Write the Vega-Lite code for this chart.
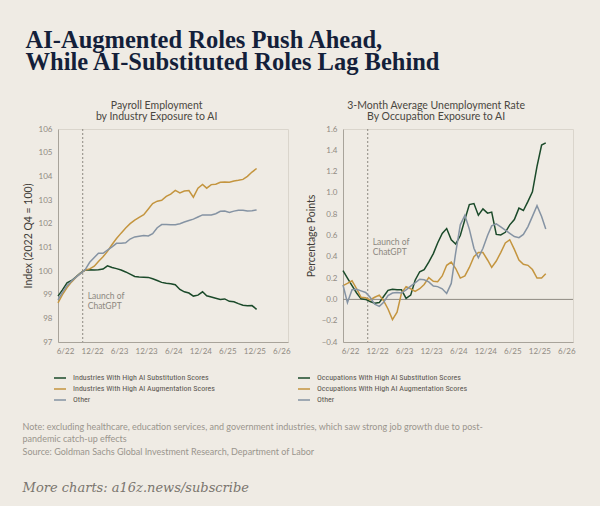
{
  "$schema": "https://vega.github.io/schema/vega-lite/v6.json",
  "background": "#efebe4",
  "padding": {"left": 22, "top": 27, "right": 25, "bottom": 11},
  "config": {
    "font": "Lato",
    "view": {"stroke": "#dad5cc"},
    "axis": {"labelFont": "Lato", "labelFontSize": 8, "labelColor": "#8f8a82", "labelOverlap": false, "labelFlush": false, "domainColor": "#a8a39a", "ticks": false, "grid": false, "titleFont": "Lato", "titleFontSize": 10.5, "titleFontWeight": "normal", "titleColor": "#3f3c37"},
    "legend": {"orient": "none", "direction": "vertical", "symbolType": "stroke", "symbolSize": 144, "symbolStrokeWidth": 1.5, "labelFont": "Liberation Sans Narrow, Roboto Condensed, Liberation Sans", "labelFontSize": 8, "labelColor": "#5a5650", "rowPadding": 0, "labelOffset": 6, "title": null}
  },
  "title": {"text": ["AI-Augmented Roles Push Ahead,", "While AI-Substituted Roles Lag Behind"], "anchor": "start", "font": "Liberation Serif", "fontSize": 24.5, "fontWeight": "bold", "color": "#141f3a", "lineHeight": 22, "offset": 25, "dx": 3},
  "datasets": {
    "employment": [
      {"date":"2022-06-01","series":"sub","value":98.94},{"date":"2022-07-01","series":"sub","value":99.2},{"date":"2022-08-01","series":"sub","value":99.5},{"date":"2022-09-01","series":"sub","value":99.6},{"date":"2022-10-01","series":"sub","value":99.75},{"date":"2022-11-01","series":"sub","value":99.92},{"date":"2022-12-01","series":"sub","value":100.04},
      {"date":"2023-01-01","series":"sub","value":100.05},{"date":"2023-02-01","series":"sub","value":100.04},{"date":"2023-03-01","series":"sub","value":100.05},{"date":"2023-04-01","series":"sub","value":100.08},{"date":"2023-05-01","series":"sub","value":100.22},{"date":"2023-06-01","series":"sub","value":100.15},{"date":"2023-07-01","series":"sub","value":100.1},{"date":"2023-08-01","series":"sub","value":100.04},{"date":"2023-09-01","series":"sub","value":99.96},{"date":"2023-10-01","series":"sub","value":99.87},{"date":"2023-11-01","series":"sub","value":99.77},{"date":"2023-12-01","series":"sub","value":99.75},
      {"date":"2024-01-01","series":"sub","value":99.74},{"date":"2024-02-01","series":"sub","value":99.73},{"date":"2024-03-01","series":"sub","value":99.67},{"date":"2024-04-01","series":"sub","value":99.6},{"date":"2024-05-01","series":"sub","value":99.52},{"date":"2024-06-01","series":"sub","value":99.48},{"date":"2024-07-01","series":"sub","value":99.46},{"date":"2024-08-01","series":"sub","value":99.42},{"date":"2024-09-01","series":"sub","value":99.22},{"date":"2024-10-01","series":"sub","value":99.12},{"date":"2024-11-01","series":"sub","value":99.07},{"date":"2024-12-01","series":"sub","value":98.94},
      {"date":"2025-01-01","series":"sub","value":98.98},{"date":"2025-02-01","series":"sub","value":99.12},{"date":"2025-03-01","series":"sub","value":98.95},{"date":"2025-04-01","series":"sub","value":98.9},{"date":"2025-05-01","series":"sub","value":98.85},{"date":"2025-06-01","series":"sub","value":98.8},{"date":"2025-07-01","series":"sub","value":98.82},{"date":"2025-08-01","series":"sub","value":98.72},{"date":"2025-09-01","series":"sub","value":98.7},{"date":"2025-10-01","series":"sub","value":98.62},{"date":"2025-11-01","series":"sub","value":98.55},{"date":"2025-12-01","series":"sub","value":98.53},
      {"date":"2026-01-01","series":"sub","value":98.54},{"date":"2026-02-01","series":"sub","value":98.38},

      {"date":"2022-06-01","series":"aug","value":98.65},{"date":"2022-07-01","series":"aug","value":99.0},{"date":"2022-08-01","series":"aug","value":99.3},{"date":"2022-09-01","series":"aug","value":99.54},{"date":"2022-10-01","series":"aug","value":99.74},{"date":"2022-11-01","series":"aug","value":99.91},{"date":"2022-12-01","series":"aug","value":100.04},
      {"date":"2023-01-01","series":"aug","value":100.09},{"date":"2023-02-01","series":"aug","value":100.2},{"date":"2023-03-01","series":"aug","value":100.4},{"date":"2023-04-01","series":"aug","value":100.6},{"date":"2023-05-01","series":"aug","value":100.83},{"date":"2023-06-01","series":"aug","value":101.12},{"date":"2023-07-01","series":"aug","value":101.37},{"date":"2023-08-01","series":"aug","value":101.6},{"date":"2023-09-01","series":"aug","value":101.82},{"date":"2023-10-01","series":"aug","value":102.0},{"date":"2023-11-01","series":"aug","value":102.15},{"date":"2023-12-01","series":"aug","value":102.27},
      {"date":"2024-01-01","series":"aug","value":102.38},{"date":"2024-02-01","series":"aug","value":102.62},{"date":"2024-03-01","series":"aug","value":102.85},{"date":"2024-04-01","series":"aug","value":102.95},{"date":"2024-05-01","series":"aug","value":102.99},{"date":"2024-06-01","series":"aug","value":103.15},{"date":"2024-07-01","series":"aug","value":103.25},{"date":"2024-08-01","series":"aug","value":103.41},{"date":"2024-09-01","series":"aug","value":103.3},{"date":"2024-10-01","series":"aug","value":103.38},{"date":"2024-11-01","series":"aug","value":103.4},{"date":"2024-12-01","series":"aug","value":103.12},
      {"date":"2025-01-01","series":"aug","value":103.5},{"date":"2025-02-01","series":"aug","value":103.66},{"date":"2025-03-01","series":"aug","value":103.5},{"date":"2025-04-01","series":"aug","value":103.65},{"date":"2025-05-01","series":"aug","value":103.67},{"date":"2025-06-01","series":"aug","value":103.75},{"date":"2025-07-01","series":"aug","value":103.76},{"date":"2025-08-01","series":"aug","value":103.75},{"date":"2025-09-01","series":"aug","value":103.8},{"date":"2025-10-01","series":"aug","value":103.83},{"date":"2025-11-01","series":"aug","value":103.87},{"date":"2025-12-01","series":"aug","value":104.0},
      {"date":"2026-01-01","series":"aug","value":104.18},{"date":"2026-02-01","series":"aug","value":104.33},

      {"date":"2022-06-01","series":"oth","value":98.78},{"date":"2022-07-01","series":"oth","value":99.1},{"date":"2022-08-01","series":"oth","value":99.38},{"date":"2022-09-01","series":"oth","value":99.58},{"date":"2022-10-01","series":"oth","value":99.74},{"date":"2022-11-01","series":"oth","value":99.9},{"date":"2022-12-01","series":"oth","value":100.05},
      {"date":"2023-01-01","series":"oth","value":100.37},{"date":"2023-02-01","series":"oth","value":100.57},{"date":"2023-03-01","series":"oth","value":100.75},{"date":"2023-04-01","series":"oth","value":100.75},{"date":"2023-05-01","series":"oth","value":100.88},{"date":"2023-06-01","series":"oth","value":101.02},{"date":"2023-07-01","series":"oth","value":101.17},{"date":"2023-08-01","series":"oth","value":101.17},{"date":"2023-09-01","series":"oth","value":101.19},{"date":"2023-10-01","series":"oth","value":101.35},{"date":"2023-11-01","series":"oth","value":101.44},{"date":"2023-12-01","series":"oth","value":101.47},
      {"date":"2024-01-01","series":"oth","value":101.5},{"date":"2024-02-01","series":"oth","value":101.48},{"date":"2024-03-01","series":"oth","value":101.58},{"date":"2024-04-01","series":"oth","value":101.83},{"date":"2024-05-01","series":"oth","value":101.96},{"date":"2024-06-01","series":"oth","value":101.96},{"date":"2024-07-01","series":"oth","value":101.95},{"date":"2024-08-01","series":"oth","value":101.95},{"date":"2024-09-01","series":"oth","value":102.0},{"date":"2024-10-01","series":"oth","value":102.07},{"date":"2024-11-01","series":"oth","value":102.13},{"date":"2024-12-01","series":"oth","value":102.19},
      {"date":"2025-01-01","series":"oth","value":102.28},{"date":"2025-02-01","series":"oth","value":102.37},{"date":"2025-03-01","series":"oth","value":102.37},{"date":"2025-04-01","series":"oth","value":102.37},{"date":"2025-05-01","series":"oth","value":102.42},{"date":"2025-06-01","series":"oth","value":102.52},{"date":"2025-07-01","series":"oth","value":102.53},{"date":"2025-08-01","series":"oth","value":102.47},{"date":"2025-09-01","series":"oth","value":102.53},{"date":"2025-10-01","series":"oth","value":102.57},{"date":"2025-11-01","series":"oth","value":102.57},{"date":"2025-12-01","series":"oth","value":102.54},
      {"date":"2026-01-01","series":"oth","value":102.55},{"date":"2026-02-01","series":"oth","value":102.58}
    ],
    "unemployment": [
      {"date":"2022-06-01","series":"sub","value":0.27},{"date":"2022-07-01","series":"sub","value":0.2},{"date":"2022-08-01","series":"sub","value":0.13},{"date":"2022-09-01","series":"sub","value":0.06},{"date":"2022-10-01","series":"sub","value":0.005},{"date":"2022-11-01","series":"sub","value":0.0},{"date":"2022-12-01","series":"sub","value":-0.02},
      {"date":"2023-01-01","series":"sub","value":-0.035},{"date":"2023-02-01","series":"sub","value":-0.03},{"date":"2023-03-01","series":"sub","value":0.025},{"date":"2023-04-01","series":"sub","value":0.085},{"date":"2023-05-01","series":"sub","value":0.095},{"date":"2023-06-01","series":"sub","value":0.09},{"date":"2023-07-01","series":"sub","value":0.09},{"date":"2023-08-01","series":"sub","value":0.01},{"date":"2023-09-01","series":"sub","value":0.04},{"date":"2023-10-01","series":"sub","value":0.18},{"date":"2023-11-01","series":"sub","value":0.26},{"date":"2023-12-01","series":"sub","value":0.28},
      {"date":"2024-01-01","series":"sub","value":0.35},{"date":"2024-02-01","series":"sub","value":0.43},{"date":"2024-03-01","series":"sub","value":0.53},{"date":"2024-04-01","series":"sub","value":0.62},{"date":"2024-05-01","series":"sub","value":0.665},{"date":"2024-06-01","series":"sub","value":0.56},{"date":"2024-07-01","series":"sub","value":0.52},{"date":"2024-08-01","series":"sub","value":0.6},{"date":"2024-09-01","series":"sub","value":0.75},{"date":"2024-10-01","series":"sub","value":0.89},{"date":"2024-11-01","series":"sub","value":0.9},{"date":"2024-12-01","series":"sub","value":0.79},
      {"date":"2025-01-01","series":"sub","value":0.85},{"date":"2025-02-01","series":"sub","value":0.81},{"date":"2025-03-01","series":"sub","value":0.82},{"date":"2025-04-01","series":"sub","value":0.61},{"date":"2025-05-01","series":"sub","value":0.605},{"date":"2025-06-01","series":"sub","value":0.63},{"date":"2025-07-01","series":"sub","value":0.7},{"date":"2025-08-01","series":"sub","value":0.75},{"date":"2025-09-01","series":"sub","value":0.857},{"date":"2025-10-01","series":"sub","value":0.835},{"date":"2025-11-01","series":"sub","value":0.92},{"date":"2025-12-01","series":"sub","value":1.01},
      {"date":"2026-01-01","series":"sub","value":1.25},{"date":"2026-02-01","series":"sub","value":1.45},{"date":"2026-03-01","series":"sub","value":1.47},

      {"date":"2022-06-01","series":"aug","value":0.13},{"date":"2022-07-01","series":"aug","value":0.15},{"date":"2022-08-01","series":"aug","value":0.175},{"date":"2022-09-01","series":"aug","value":0.1},{"date":"2022-10-01","series":"aug","value":0.02},{"date":"2022-11-01","series":"aug","value":0.015},{"date":"2022-12-01","series":"aug","value":-0.005},
      {"date":"2023-01-01","series":"aug","value":0.02},{"date":"2023-02-01","series":"aug","value":0.04},{"date":"2023-03-01","series":"aug","value":-0.01},{"date":"2023-04-01","series":"aug","value":-0.09},{"date":"2023-05-01","series":"aug","value":-0.19},{"date":"2023-06-01","series":"aug","value":-0.12},{"date":"2023-07-01","series":"aug","value":0.06},{"date":"2023-08-01","series":"aug","value":0.12},{"date":"2023-09-01","series":"aug","value":0.1},{"date":"2023-10-01","series":"aug","value":0.075},{"date":"2023-11-01","series":"aug","value":0.1},{"date":"2023-12-01","series":"aug","value":0.14},
      {"date":"2024-01-01","series":"aug","value":0.205},{"date":"2024-02-01","series":"aug","value":0.17},{"date":"2024-03-01","series":"aug","value":0.165},{"date":"2024-04-01","series":"aug","value":0.22},{"date":"2024-05-01","series":"aug","value":0.32},{"date":"2024-06-01","series":"aug","value":0.35},{"date":"2024-07-01","series":"aug","value":0.29},{"date":"2024-08-01","series":"aug","value":0.2},{"date":"2024-09-01","series":"aug","value":0.22},{"date":"2024-10-01","series":"aug","value":0.3},{"date":"2024-11-01","series":"aug","value":0.4},{"date":"2024-12-01","series":"aug","value":0.44},
      {"date":"2025-01-01","series":"aug","value":0.44},{"date":"2025-02-01","series":"aug","value":0.37},{"date":"2025-03-01","series":"aug","value":0.3},{"date":"2025-04-01","series":"aug","value":0.36},{"date":"2025-05-01","series":"aug","value":0.44},{"date":"2025-06-01","series":"aug","value":0.53},{"date":"2025-07-01","series":"aug","value":0.56},{"date":"2025-08-01","series":"aug","value":0.47},{"date":"2025-09-01","series":"aug","value":0.37},{"date":"2025-10-01","series":"aug","value":0.33},{"date":"2025-11-01","series":"aug","value":0.32},{"date":"2025-12-01","series":"aug","value":0.28},
      {"date":"2026-01-01","series":"aug","value":0.2},{"date":"2026-02-01","series":"aug","value":0.2},{"date":"2026-03-01","series":"aug","value":0.24},

      {"date":"2022-06-01","series":"oth","value":0.135},{"date":"2022-07-01","series":"oth","value":-0.03},{"date":"2022-08-01","series":"oth","value":0.09},{"date":"2022-09-01","series":"oth","value":0.095},{"date":"2022-10-01","series":"oth","value":0.08},{"date":"2022-11-01","series":"oth","value":0.065},{"date":"2022-12-01","series":"oth","value":0.02},
      {"date":"2023-01-01","series":"oth","value":-0.045},{"date":"2023-02-01","series":"oth","value":-0.065},{"date":"2023-03-01","series":"oth","value":-0.03},{"date":"2023-04-01","series":"oth","value":0.035},{"date":"2023-05-01","series":"oth","value":0.06},{"date":"2023-06-01","series":"oth","value":0.065},{"date":"2023-07-01","series":"oth","value":0.06},{"date":"2023-08-01","series":"oth","value":0.09},{"date":"2023-09-01","series":"oth","value":0.125},{"date":"2023-10-01","series":"oth","value":0.155},{"date":"2023-11-01","series":"oth","value":0.19},{"date":"2023-12-01","series":"oth","value":0.185},
      {"date":"2024-01-01","series":"oth","value":0.165},{"date":"2024-02-01","series":"oth","value":0.125},{"date":"2024-03-01","series":"oth","value":0.12},{"date":"2024-04-01","series":"oth","value":0.1},{"date":"2024-05-01","series":"oth","value":0.056},{"date":"2024-06-01","series":"oth","value":0.15},{"date":"2024-07-01","series":"oth","value":0.44},{"date":"2024-08-01","series":"oth","value":0.7},{"date":"2024-09-01","series":"oth","value":0.79},{"date":"2024-10-01","series":"oth","value":0.66},{"date":"2024-11-01","series":"oth","value":0.48},{"date":"2024-12-01","series":"oth","value":0.39},
      {"date":"2025-01-01","series":"oth","value":0.48},{"date":"2025-02-01","series":"oth","value":0.6},{"date":"2025-03-01","series":"oth","value":0.69},{"date":"2025-04-01","series":"oth","value":0.71},{"date":"2025-05-01","series":"oth","value":0.68},{"date":"2025-06-01","series":"oth","value":0.65},{"date":"2025-07-01","series":"oth","value":0.62},{"date":"2025-08-01","series":"oth","value":0.59},{"date":"2025-09-01","series":"oth","value":0.58},{"date":"2025-10-01","series":"oth","value":0.61},{"date":"2025-11-01","series":"oth","value":0.684},{"date":"2025-12-01","series":"oth","value":0.78},
      {"date":"2026-01-01","series":"oth","value":0.88},{"date":"2026-02-01","series":"oth","value":0.778},{"date":"2026-03-01","series":"oth","value":0.66}
    ]
  },
  "vconcat": [
    {
      "title": {
        "text": ["Note: excluding healthcare, education services, and government industries, which saw strong job growth due to post-", "pandemic catch-up effects", "Source: Goldman Sachs Global Investment Research, Department of Labor"],
        "subtitle": "More charts: a16z.news/subscribe",
        "orient": "bottom", "anchor": "start", "frame": "bounds",
        "font": "Lato", "fontSize": 9, "fontWeight": "normal", "color": "#9a958d", "lineHeight": 12.5, "offset": 18, "dx": 0,
        "subtitleFont": "DejaVu Serif", "subtitleFontStyle": "italic", "subtitleFontSize": 13, "subtitleColor": "#7a756e", "subtitlePadding": 25
      },
      "spacing": 5,
      "resolve": {"scale": {"color": "independent"}, "legend": {"color": "independent"}},
      "hconcat": [
        {
          "width": 230, "height": 213,
          "title": {"text": ["Payroll Employment", "by Industry Exposure to AI"], "frame": "bounds", "anchor": "middle", "font": "Lato", "fontSize": 10.5, "fontWeight": "normal", "color": "#4a4741", "lineHeight": 11, "offset": 3},
          "layer": [
            {
              "data": {"values": [{"date": "2022-11-15"}]},
              "mark": {"type": "rule", "strokeDash": [2, 2], "color": "#8c8880", "strokeWidth": 1},
              "encoding": {
                "x": {"field": "date", "type": "temporal", "scale": {"domain": [{"year": 2022, "month": 6, "date": 1}, {"year": 2026, "month": 9, "date": 1}]},
                  "axis": {"title": null, "format": "%-m/%y", "labelOffset": 7, "labelPadding": 5, "values": [{"year": 2022, "month": 6, "date": 1}, {"year": 2022, "month": 12, "date": 1}, {"year": 2023, "month": 6, "date": 1}, {"year": 2023, "month": 12, "date": 1}, {"year": 2024, "month": 6, "date": 1}, {"year": 2024, "month": 12, "date": 1}, {"year": 2025, "month": 6, "date": 1}, {"year": 2025, "month": 12, "date": 1}, {"year": 2026, "month": 6, "date": 1}]}}
              }
            },
            {
              "data": {"values": [{"date": "2022-11-15", "value": 99.12, "label": "Launch of\nChatGPT"}]},
              "mark": {"type": "text", "lineBreak": "\n", "align": "left", "baseline": "top", "dx": 5, "font": "Lato", "fontSize": 8.5, "color": "#8c8880", "lineHeight": 10},
              "encoding": {
                "x": {"field": "date", "type": "temporal", "scale": {"domain": [{"year": 2022, "month": 6, "date": 1}, {"year": 2026, "month": 9, "date": 1}]},
                  "axis": {"title": null, "format": "%-m/%y", "labelOffset": 7, "labelPadding": 5, "values": [{"year": 2022, "month": 6, "date": 1}, {"year": 2022, "month": 12, "date": 1}, {"year": 2023, "month": 6, "date": 1}, {"year": 2023, "month": 12, "date": 1}, {"year": 2024, "month": 6, "date": 1}, {"year": 2024, "month": 12, "date": 1}, {"year": 2025, "month": 6, "date": 1}, {"year": 2025, "month": 12, "date": 1}, {"year": 2026, "month": 6, "date": 1}]}},
                "y": {"field": "value", "type": "quantitative", "scale": {"domain": [97, 106], "nice": false, "zero": false},
                  "axis": {"title": "Index (2022 Q4 = 100)", "values": [97, 98, 99, 100, 101, 102, 103, 104, 105, 106], "labelPadding": 6, "titlePadding": 5}},
                "text": {"field": "label"}
              }
            },
            {
              "data": {"name": "employment"},
              "mark": {"type": "line", "strokeWidth": 1.5},
              "encoding": {
                "x": {"field": "date", "type": "temporal", "scale": {"domain": [{"year": 2022, "month": 6, "date": 1}, {"year": 2026, "month": 9, "date": 1}]},
                  "axis": {"title": null, "format": "%-m/%y", "labelOffset": 7, "labelPadding": 5, "values": [{"year": 2022, "month": 6, "date": 1}, {"year": 2022, "month": 12, "date": 1}, {"year": 2023, "month": 6, "date": 1}, {"year": 2023, "month": 12, "date": 1}, {"year": 2024, "month": 6, "date": 1}, {"year": 2024, "month": 12, "date": 1}, {"year": 2025, "month": 6, "date": 1}, {"year": 2025, "month": 12, "date": 1}, {"year": 2026, "month": 6, "date": 1}]}},
                "y": {"field": "value", "type": "quantitative", "scale": {"domain": [97, 106], "nice": false, "zero": false},
                  "axis": {"title": "Index (2022 Q4 = 100)", "values": [97, 98, 99, 100, 101, 102, 103, 104, 105, 106], "labelPadding": 6, "titlePadding": 5}},
                "color": {"field": "series", "type": "nominal",
                  "scale": {"domain": ["sub", "aug", "oth"], "range": ["#1b4a2a", "#c4953f", "#8593a3"]},
                  "legend": {"legendX": -5, "legendY": 242, "labelExpr": "datum.label == 'sub' ? 'Industries With High AI Substitution Scores' : datum.label == 'aug' ? 'Industries With High AI Augmentation Scores' : 'Other'"}}
              }
            }
          ]
        },
        {
          "width": 230, "height": 213,
          "title": {"text": ["3-Month Average Unemployment Rate", "By Occupation Exposure to AI"], "frame": "bounds", "anchor": "middle", "font": "Lato", "fontSize": 10.5, "fontWeight": "normal", "color": "#4a4741", "lineHeight": 11, "offset": 3},
          "layer": [
            {
              "data": {"values": [{"value": 0}]},
              "mark": {"type": "rule", "color": "#8f8a82", "strokeWidth": 1},
              "encoding": {
                "y": {"field": "value", "type": "quantitative", "scale": {"domain": [-0.4, 1.6], "nice": false, "zero": false},
                  "axis": {"title": "Percentage Points", "format": ".1f", "values": [-0.4, -0.2, 0, 0.2, 0.4, 0.6, 0.8, 1.0, 1.2, 1.4, 1.6], "labelPadding": 6, "titlePadding": 5}}
              }
            },
            {
              "data": {"values": [{"date": "2022-11-15"}]},
              "mark": {"type": "rule", "strokeDash": [2, 2], "color": "#8c8880", "strokeWidth": 1},
              "encoding": {
                "x": {"field": "date", "type": "temporal", "scale": {"domain": [{"year": 2022, "month": 6, "date": 1}, {"year": 2026, "month": 9, "date": 1}]},
                  "axis": {"title": null, "format": "%-m/%y", "labelOffset": 7, "labelPadding": 5, "values": [{"year": 2022, "month": 6, "date": 1}, {"year": 2022, "month": 12, "date": 1}, {"year": 2023, "month": 6, "date": 1}, {"year": 2023, "month": 12, "date": 1}, {"year": 2024, "month": 6, "date": 1}, {"year": 2024, "month": 12, "date": 1}, {"year": 2025, "month": 6, "date": 1}, {"year": 2025, "month": 12, "date": 1}, {"year": 2026, "month": 6, "date": 1}]}}
              }
            },
            {
              "data": {"values": [{"date": "2022-11-15", "value": 0.576, "label": "Launch of\nChatGPT"}]},
              "mark": {"type": "text", "lineBreak": "\n", "align": "left", "baseline": "top", "dx": 5, "font": "Lato", "fontSize": 8.5, "color": "#8c8880", "lineHeight": 10},
              "encoding": {
                "x": {"field": "date", "type": "temporal", "scale": {"domain": [{"year": 2022, "month": 6, "date": 1}, {"year": 2026, "month": 9, "date": 1}]},
                  "axis": {"title": null, "format": "%-m/%y", "labelOffset": 7, "labelPadding": 5, "values": [{"year": 2022, "month": 6, "date": 1}, {"year": 2022, "month": 12, "date": 1}, {"year": 2023, "month": 6, "date": 1}, {"year": 2023, "month": 12, "date": 1}, {"year": 2024, "month": 6, "date": 1}, {"year": 2024, "month": 12, "date": 1}, {"year": 2025, "month": 6, "date": 1}, {"year": 2025, "month": 12, "date": 1}, {"year": 2026, "month": 6, "date": 1}]}},
                "y": {"field": "value", "type": "quantitative", "scale": {"domain": [-0.4, 1.6], "nice": false, "zero": false},
                  "axis": {"title": "Percentage Points", "format": ".1f", "values": [-0.4, -0.2, 0, 0.2, 0.4, 0.6, 0.8, 1.0, 1.2, 1.4, 1.6], "labelPadding": 6, "titlePadding": 5}},
                "text": {"field": "label"}
              }
            },
            {
              "data": {"name": "unemployment"},
              "mark": {"type": "line", "strokeWidth": 1.5},
              "encoding": {
                "x": {"field": "date", "type": "temporal", "scale": {"domain": [{"year": 2022, "month": 6, "date": 1}, {"year": 2026, "month": 9, "date": 1}]},
                  "axis": {"title": null, "format": "%-m/%y", "labelOffset": 7, "labelPadding": 5, "values": [{"year": 2022, "month": 6, "date": 1}, {"year": 2022, "month": 12, "date": 1}, {"year": 2023, "month": 6, "date": 1}, {"year": 2023, "month": 12, "date": 1}, {"year": 2024, "month": 6, "date": 1}, {"year": 2024, "month": 12, "date": 1}, {"year": 2025, "month": 6, "date": 1}, {"year": 2025, "month": 12, "date": 1}, {"year": 2026, "month": 6, "date": 1}]}},
                "y": {"field": "value", "type": "quantitative", "scale": {"domain": [-0.4, 1.6], "nice": false, "zero": false},
                  "axis": {"title": "Percentage Points", "format": ".1f", "values": [-0.4, -0.2, 0, 0.2, 0.4, 0.6, 0.8, 1.0, 1.2, 1.4, 1.6], "labelPadding": 6, "titlePadding": 5}},
                "color": {"field": "series", "type": "nominal",
                  "scale": {"domain": ["sub", "aug", "oth"], "range": ["#1b4a2a", "#c4953f", "#8593a3"]},
                  "legend": {"legendX": -46, "legendY": 242, "labelExpr": "datum.label == 'sub' ? 'Occupations With High AI Substitution Scores' : datum.label == 'aug' ? 'Occupations With High AI Augmentation Scores' : 'Other'"}}
              }
            }
          ]
        }
      ]
    }
  ]
}
